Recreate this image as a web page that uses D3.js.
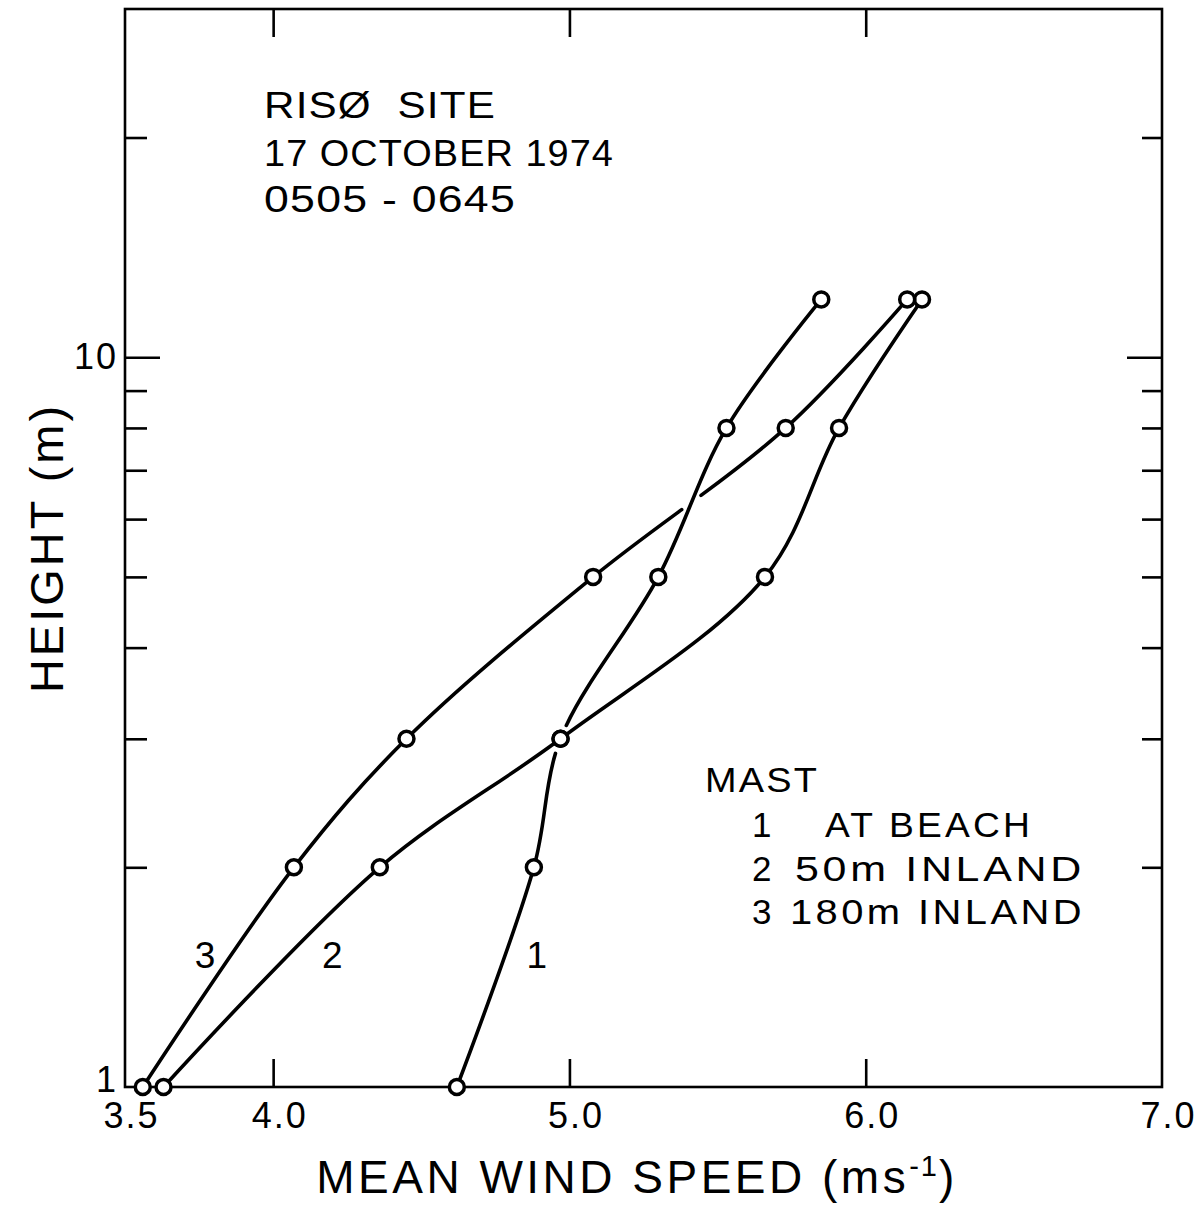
<!DOCTYPE html>
<html>
<head>
<meta charset="utf-8">
<script src="https://cdn.jsdelivr.net/npm/d3@7"></script>
<style>
  html, body { margin: 0; padding: 0; background: #fff; }
  svg { display: block; }
  text { font-family: "Liberation Sans", Arial, sans-serif; fill: #000; }
</style>
</head>
<body>
<svg id="chart" width="1202" height="1206"></svg>
<script>
// Measurement heights (m) shared by all three masts
const heights = [1, 2, 3, 5, 8, 12];
// Mean wind speed (m/s) at each height, one array per mast
const beach = [4.62, 4.88, 4.97, 5.30, 5.53, 5.85];
const inland50 = [3.63, 4.36, 4.97, 5.66, 5.91, 6.19];
const inland180 = [3.56, 4.07, 4.45, 5.08, 5.73, 6.14];
const mastIds = ["1", "2", "3"];
const mastNames = ["AT BEACH", "50m INLAND", "180m INLAND"];
const xTickValues = [3.5, 4.0, 5.0, 6.0, 7.0];
const xInnerTicks = [4.0, 5.0, 6.0];
const yTickValues = [2, 3, 4, 5, 6, 7, 8, 9, 10, 20];
const yTickLabels = [1, 10];
const siteLines = ["RISØ  SITE", "17 OCTOBER 1974", "0505 - 0645"];

const series = [beach, inland50, inland180];

(function draw() {
  const svg = d3.select("#chart");
  const L0 = 125, R0 = 1162, T0 = 9, B0 = 1087;

  const x = d3.scaleLinear().domain([3.5, 7.0]).range([L0, R0]);
  const y = d3.scaleLog().domain([1, 30]).range([B0, T0]);

  const ink = "#000";

  // Frame
  svg.append("rect")
    .attr("x", L0).attr("y", T0)
    .attr("width", R0 - L0).attr("height", B0 - T0)
    .attr("fill", "none").attr("stroke", ink).attr("stroke-width", 2.6);

  function styleAxis(g) {
    g.select(".domain").remove();
    g.attr("font-family", null).attr("font-size", null);
    g.selectAll(".tick line").attr("stroke", ink).attr("stroke-width", 2.6);
    g.selectAll(".tick text")
      .style("font-family", '"Liberation Sans", Arial, sans-serif')
      .style("font-size", "36px")
      .style("letter-spacing", "2px")
      .attr("fill", ink);
  }

  // Left axis: inward ticks, labels at 1 and 10
  const gLeft = svg.append("g").attr("transform", `translate(${L0},0)`)
    .call(d3.axisLeft(y).tickValues([1, ...yTickValues]).tickSize(-22).tickPadding(7)
      .tickFormat(d => yTickLabels.includes(d) ? String(d) : ""));
  styleAxis(gLeft);
  gLeft.selectAll(".tick").filter(d => d === 10).select("line").attr("x2", 35);
  gLeft.selectAll(".tick").filter(d => d === 1).select("line").remove();
  gLeft.selectAll(".tick").filter(d => d === 1).select("text").attr("dy", "0.12em");

  // Right axis: inward ticks only
  const gRight = svg.append("g").attr("transform", `translate(${R0},0)`)
    .call(d3.axisRight(y).tickValues(yTickValues).tickSize(-20).tickFormat(""));
  styleAxis(gRight);
  gRight.selectAll(".tick").filter(d => d === 10).select("line").attr("x2", -35);

  // Bottom axis with speed labels
  const gBottom = svg.append("g").attr("transform", `translate(0,${B0})`)
    .call(d3.axisBottom(x).tickValues(xTickValues).tickSize(-28).tickPadding(15)
      .tickFormat(d3.format(".1f")));
  styleAxis(gBottom);
  gBottom.selectAll(".tick").filter(d => !xInnerTicks.includes(d)).select("line").remove();
  gBottom.selectAll(".tick text").attr("dx", "6px");

  // Top axis: inward ticks only
  const gTop = svg.append("g").attr("transform", `translate(0,${T0})`)
    .call(d3.axisTop(x).tickValues(xInnerTicks).tickSize(-28).tickFormat(""));
  styleAxis(gTop);

  // Profiles
  const line = d3.line()
    .x(d => x(d[0]))
    .y(d => y(d[1]))
    .curve(d3.curveCatmullRom.alpha(0.5));

  const paths = series.map(vals => {
    const pts = vals.map((v, i) => [v, heights[i]]);
    return svg.append("path")
      .datum(pts)
      .attr("d", line)
      .attr("fill", "none")
      .attr("stroke", ink)
      .attr("stroke-width", 3.6)
      .attr("stroke-linecap", "round");
  });

  function sample(node) {
    const len = node.getTotalLength();
    const pts = [];
    for (let s = 0; s <= len; s += 1) {
      const p = node.getPointAtLength(s);
      pts.push([s, p.x, p.y]);
    }
    return { len, pts };
  }

  // Pen lift where profile 3 passes over profile 1
  {
    const a = sample(paths[2].node()), b = sample(paths[0].node());
    let best = Infinity, sAt = 0;
    a.pts.forEach(p => {
      if (p[0] < 30 || p[0] > a.len - 30) return;
      b.pts.forEach(q => {
        const d = (p[1] - q[1]) ** 2 + (p[2] - q[2]) ** 2;
        if (d < best) { best = d; sAt = p[0]; }
      });
    });
    const g = 12;
    paths[2].attr("stroke-dasharray", `${sAt - g} ${2 * g} ${a.len}`);
  }

  // Pen lift on profile 1 around its 3 m reading
  {
    const a = sample(paths[0].node());
    const px = x(beach[2]), py = y(heights[2]);
    let best = Infinity, sAt = 0;
    a.pts.forEach(p => {
      const d = (p[1] - px) ** 2 + (p[2] - py) ** 2;
      if (d < best) { best = d; sAt = p[0]; }
    });
    const g = 15;
    paths[0].attr("stroke-dasharray", `${sAt - g} ${2 * g} ${a.len}`);
  }

  // Observation markers
  series.forEach(vals => {
    svg.append("g").selectAll("circle")
      .data(vals.map((v, i) => [v, heights[i]]))
      .join("circle")
      .attr("cx", d => x(d[0]))
      .attr("cy", d => y(d[1]))
      .attr("r", 7.5)
      .attr("fill", "#fff")
      .attr("stroke", ink)
      .attr("stroke-width", 3.5);
  });

  // Curve identifiers
  const curveLabels = [
    { id: mastIds[0], v: 4.89, h: 1.52 },
    { id: mastIds[1], v: 4.20, h: 1.52 },
    { id: mastIds[2], v: 3.77, h: 1.52 }
  ];
  svg.append("g").selectAll("text")
    .data(curveLabels)
    .join("text")
    .attr("x", d => x(d.v))
    .attr("y", d => y(d.h))
    .attr("dy", "0.36em")
    .attr("text-anchor", "middle")
    .style("font-size", "37px")
    .text(d => d.id);

  // Site / date block
  const siteWidths = [232, 350, 252];
  svg.append("g").selectAll("text")
    .data(siteLines)
    .join("text")
    .attr("x", 264)
    .attr("y", (d, i) => [118, 166, 212][i])
    .attr("textLength", (d, i) => siteWidths[i])
    .attr("lengthAdjust", "spacingAndGlyphs")
    .style("white-space", "pre")
    .style("font-size", "36px")
    .style("letter-spacing", "1px")
    .text(d => d);

  // Legend
  const legend = svg.append("g");
  legend.append("text")
    .attr("x", 705).attr("y", 792)
    .attr("textLength", 114).attr("lengthAdjust", "spacingAndGlyphs")
    .style("font-size", "35px").style("letter-spacing", "2px")
    .text("MAST");
  const nameX = [825, 795, 790];
  const nameW = [208, 290, 295];
  mastIds.forEach((id, i) => {
    const yy = 837 + i * 43.5;
    legend.append("text").attr("x", 752).attr("y", yy)
      .style("font-size", "35px").text(id);
    legend.append("text").attr("x", nameX[i]).attr("y", yy)
      .attr("textLength", nameW[i]).attr("lengthAdjust", "spacingAndGlyphs")
      .style("font-size", "35px").style("letter-spacing", "3px")
      .text(mastNames[i]);
  });

  // Axis titles
  svg.append("text")
    .attr("transform", "translate(63,548) rotate(-90)")
    .attr("text-anchor", "middle")
    .style("font-size", "47px")
    .style("letter-spacing", "3px")
    .text("HEIGHT (m)");

  const xt = svg.append("text")
    .attr("x", 637).attr("y", 1193)
    .attr("text-anchor", "middle")
    .style("font-size", "46px")
    .style("letter-spacing", "3.5px");
  xt.append("tspan").text("MEAN WIND SPEED (ms");
  xt.append("tspan").attr("dy", -17).style("font-size", "29px").style("letter-spacing", "2px").text("-1");
  xt.append("tspan").attr("dy", 17).text(")");
})();
</script>
</body>
</html>
